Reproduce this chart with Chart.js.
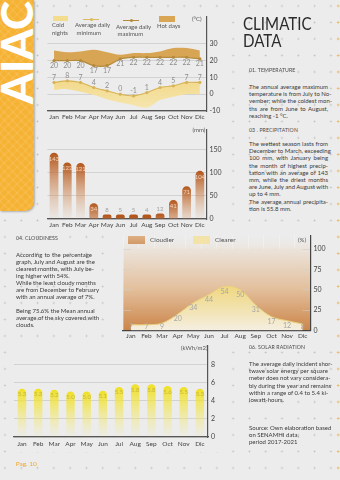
<!DOCTYPE html>
<html>
<head>
<meta charset="utf-8">
<script src="https://cdn.jsdelivr.net/npm/chart.js@4.4.1/dist/chart.umd.min.js"></script>
<style>
html,body{margin:0;padding:0;}
body{width:340px;height:480px;position:relative;overflow:hidden;background-color:#ececec;
  background-image:radial-gradient(circle,#c2c2c2 0 0.7px,transparent 1.2px);
  background-size:16.3px 16.5px;background-position:-3.2px -2.3px;
  font-family:Lato,"Open Sans",sans-serif;color:#3a3a3a;}
.edge{position:absolute;left:334px;top:0;width:6px;height:480px;
  background-image:radial-gradient(circle,#eab060 0 0.8px,transparent 1.3px);
  background-size:16.3px 16.5px;background-position:-4px -2.3px;}
.panel{position:absolute;background:#ececec;}
.brand{position:absolute;left:0;top:0;width:33.5px;height:210.5px;border-bottom-right-radius:9px;
  background-color:#f6b233;
  background-image:repeating-linear-gradient(45deg,rgba(255,255,255,0.07) 0 2px,transparent 2px 6px),
                   repeating-linear-gradient(-45deg,rgba(255,255,255,0.07) 0 2px,transparent 2px 6px);
  box-shadow:1px 1px 2px rgba(0,0,0,0.25);overflow:hidden;}
.brand span{position:absolute;left:-6px;top:104px;transform-origin:left top;transform:rotate(-90deg);
  font-size:44px;line-height:44px;font-weight:900;color:#fff;white-space:nowrap;}
canvas{position:absolute;}
.t{position:absolute;font-size:6px;line-height:7.5px;color:#555;white-space:nowrap;}
.box{position:absolute;}
.h{position:absolute;font-size:5.2px;line-height:6px;letter-spacing:0.1px;color:#4a4a4a;white-space:nowrap;}
.p{position:absolute;font-size:6px;line-height:7.2px;color:#3a3a3a;}
.p div{text-align:justify;text-align-last:justify;white-space:nowrap;height:7.2px;}
.p div.e{text-align-last:left;}
.title{position:absolute;left:243px;top:14.5px;font-size:18px;line-height:17px;color:#2b2b2b;
  transform-origin:left top;transform:scaleX(0.84);white-space:nowrap;}
</style>
</head>
<body>
<div class="edge"></div>

<!-- chart backdrops -->
<div class="panel" style="left:40px;top:8px;width:182px;height:116px"></div>
<div class="panel" style="left:40px;top:124px;width:182px;height:106px"></div>
<div class="panel" style="left:112px;top:231px;width:222px;height:108px"></div>
<div class="panel" style="left:8px;top:340px;width:218px;height:112px"></div>

<div class="brand"><span>AIAC</span></div>

<canvas id="temp" width="182" height="118" style="left:40px;top:8px"></canvas>
<canvas id="rain" width="182" height="110" style="left:40px;top:122px"></canvas>
<canvas id="cloud" width="226" height="114" style="left:112px;top:228px"></canvas>
<canvas id="sun" width="218" height="113" style="left:6px;top:338px"></canvas>

<!-- temperature legend -->
<div class="box" style="left:52.7px;top:16px;width:15.3px;height:5px;background:#f3dc8c"></div>
<div class="t" style="left:52px;top:21.3px">Cold<br>nights</div>
<div class="box" style="left:83px;top:19.3px;width:16px;height:1px;background:#dcb95a"></div>
<div class="box" style="left:89.6px;top:18.2px;width:3.2px;height:3.2px;border-radius:50%;background:#dcb95a"></div>
<div class="t" style="left:75px;top:21.3px">Average daily<br>&nbsp;minimum</div>
<div class="box" style="left:123px;top:19.8px;width:16px;height:1px;background:#b48a3c"></div>
<div class="box" style="left:129.6px;top:18.7px;width:3.2px;height:3.2px;border-radius:50%;background:#b48a3c"></div>
<div class="t" style="left:116px;top:22.8px">Average daily<br>&nbsp;maximum</div>
<div class="box" style="left:159px;top:15.5px;width:16px;height:6px;background:#d9a656"></div>
<div class="t" style="left:157px;top:22.3px">Hot days</div>
<div class="t" style="left:192px;top:15px">(°C)</div>

<div class="t" style="left:192.5px;top:125.5px">(mm)</div>

<!-- cloudiness legend -->
<div class="box" style="left:128px;top:236px;width:17px;height:7.5px;background:linear-gradient(#ddb085,#d29a66)"></div>
<div class="t" style="left:150px;top:235.8px;font-size:6.5px">Cloudier</div>
<div class="box" style="left:193px;top:236px;width:17px;height:7.5px;background:#f3e3a8"></div>
<div class="t" style="left:215px;top:235.8px;font-size:6.5px">Clearer</div>
<div class="t" style="left:298px;top:236.3px">(%)</div>

<div class="t" style="left:181px;top:343.5px">(kWh/m2)</div>
<div class="t" style="left:15.7px;top:459.5px;color:#f0a830;font-size:6.5px">Pag. 10</div>

<!-- right column text -->
<div class="title">CLIMATIC<br>DATA</div>

<div class="h" style="left:249px;top:66.5px">01. TEMPERATURE</div>
<div class="p" style="left:249px;top:83px;width:79px">
  <div>The annual average maximum</div>
  <div>temperature is from July to No-</div>
  <div>vember; while the coldest mon-</div>
  <div>ths are from June to August,</div>
  <div class="e">reaching -1 °C.</div>
</div>

<div class="h" style="left:249px;top:126.5px">03 . PRECIPITATION</div>
<div class="p" style="left:249px;top:140px;width:79px">
  <div>The wettest season lasts from</div>
  <div>December to March, exceeding</div>
  <div>100 mm, with January being</div>
  <div>the month of highest precip-</div>
  <div>tation with an average of 143</div>
  <div>mm, while the driest months</div>
  <div>are June, July and August with</div>
  <div class="e">up to 4 mm.</div>
  <div>The average annual precipita-</div>
  <div class="e">tion is 55.8 mm.</div>
</div>

<div class="h" style="left:16px;top:235px">04. CLOUDINESS</div>
<div class="p" style="left:16px;top:250.5px;width:76px;line-height:7px">
  <div style="height:7px">According to the percentage</div>
  <div style="height:7px">graph, July and August are the</div>
  <div style="height:7px">clearest months, with July be-</div>
  <div class="e" style="height:7px">ing higher with 54%.</div>
  <div style="height:7px">While the least cloudy months</div>
  <div style="height:7px">are from December to February</div>
  <div class="e" style="height:7px">with an annual average of 7%.</div>
  <div class="e" style="height:7px">&nbsp;</div>
  <div style="height:7px">Being 75.6% the Mean annual</div>
  <div style="height:7px">average of the sky covered with</div>
  <div class="e" style="height:7px">clouds.</div>
</div>

<div class="h" style="left:249px;top:344px">06. SOLAR RADIATION</div>
<div class="p" style="left:249px;top:360px;width:79px">
  <div>The average daily incident shor-</div>
  <div>twave solar energy per square</div>
  <div>meter does not vary considera-</div>
  <div>bly during the year and remains</div>
  <div>within a range of 0.4 to 5.4 ki-</div>
  <div class="e">lowatt-hours.</div>
</div>
<div class="p" style="left:249px;top:423.5px;width:79px">
  <div>Source: Own elaboration based</div>
  <div class="e">on SENAMHI data,</div>
  <div class="e">period 2017-2021</div>
</div>

<script>
// ---- data ----
const months = ['Jan','Feb','Mar','Apr','May','Jun','Jul','Aug','Sep','Oct','Nov','Dic'];

// temperature (°C)
const hotDays    = [26, 25, 25.5, 26.5, 25, 23.5, 24.5, 24.5, 25.5, 27.5, 27.5, 26];
const avgMax     = [20, 20, 20, 17, 17, 21, 22, 22, 22, 22, 22, 21];
const avgMin     = [7, 8, 7, 4, 2, 0, -1, 1, 4, 5, 7, 7];
const coldNights = [2.5, 3, 1.5, -0.5, -3, -5, -6.5, -8, -3.5, -1.5, 0, 0];
const tempTicks  = [-10, 0, 10, 20, 30];

// precipitation (mm)
const rainfall  = [143, 122, 121, 34, 8, 5, 5, 4, 12, 41, 71, 104];
const rainTicks = [0, 50, 100, 150];

// cloudiness (%)
const clearSky   = [7, 7, 9, 20, 34, 44, 54, 50, 31, 17, 12, 8];
const cloudySky  = [93, 93, 91, 80, 66, 56, 46, 50, 69, 83, 88, 92];
const cloudTicks = [0, 25, 50, 75, 100];

// solar radiation (kWh/m2)
const solar      = [5.3, 5.3, 5.2, 5.0, 5.0, 5.1, 5.5, 5.8, 5.8, 5.6, 5.5, 5.3];
const solarTicks = [0, 2, 4, 6, 8];

// ---- shared setup ----
const FONT = 'Lato, "Open Sans", sans-serif';
Chart.defaults.font.family = FONT;
Chart.defaults.color = '#444';
Chart.defaults.animation = false;
Chart.defaults.plugins.legend.display = false;
Chart.defaults.plugins.tooltip.enabled = false;

const fixedTicks = list => scale => { scale.ticks = list.map(v => ({ value: v })); };

// value tags drawn next to each mark
const valueTags = {
  id: 'valueTags',
  afterDatasetsDraw(chart) {
    const ctx = chart.ctx;
    chart.data.datasets.forEach((ds, i) => {
      if (!ds.tag) return;
      const meta = chart.getDatasetMeta(i);
      meta.data.forEach((el, j) => {
        const t = ds.tag(ds.data[j], el.x, el.y, chart.chartArea);
        if (!t) return;
        ctx.save();
        ctx.font = t.font;
        ctx.fillStyle = t.color;
        ctx.textAlign = 'center';
        ctx.textBaseline = 'middle';
        ctx.fillText(t.text, el.x, t.y);
        ctx.restore();
      });
    });
  }
};

// vertical gradient spanning the chart area, from [fraction, colour] stops
function areaGradient(chart, stops) {
  const a = chart.chartArea;
  const g = chart.ctx.createLinearGradient(0, a.top, 0, a.bottom);
  stops.forEach(([s, c]) => g.addColorStop(s, c));
  return g;
}
const areaFill = stops => c => c.chart.chartArea ? areaGradient(c.chart, stops) : stops[stops.length - 1][1];

// chart-area shading behind everything
const areaShade = {
  id: 'areaShade',
  beforeDraw(chart, args, opts) {
    if (!opts.stops) return;
    const { ctx, chartArea: a } = chart;
    ctx.save();
    ctx.fillStyle = areaGradient(chart, opts.stops);
    ctx.fillRect(a.left, a.top, a.right - a.left, a.bottom - a.top);
    ctx.restore();
  }
};

function barFade(top, bottom, minSpan) {
  return c => {
    const ch = c.chart;
    if (!ch.chartArea || c.raw == null) return top;
    const ys = ch.scales.y;
    const y0 = ys.getPixelForValue(c.raw);
    const y1 = Math.max(ys.getPixelForValue(0), y0 + minSpan);
    const g = ch.ctx.createLinearGradient(0, y0, 0, y1);
    g.addColorStop(0, top);
    g.addColorStop(1, bottom);
    return g;
  };
}

function axes(o) {
  return {
    x: {
      offset: true,
      grid: o.xGrid || { display: true, drawOnChartArea: false, drawTicks: false },
      border: { display: true, color: o.axisColor || '#555', width: 1.2 },
      ticks: { font: { size: 6.5 }, color: '#444', padding: o.xPad, maxRotation: 0, autoSkip: false },
      afterFit: s => { s.height = o.xH; }
    },
    y: {
      position: 'right',
      min: o.min, max: o.max,
      stacked: !!o.stacked,
      grid: { color: o.gridColor || '#d2d2d2', lineWidth: 1, drawTicks: false },
      border: { display: true, color: o.axisColor || '#555', width: 1.2 },
      ticks: { font: { size: 7 }, color: '#444', padding: 3 },
      afterBuildTicks: fixedTicks(o.ticks),
      afterFit: s => { s.width = o.yW; }
    }
  };
}

// ---- temperature ----
const tagTemp = dy => (v, x, y) => ({ text: String(v), y: y + dy, color: '#8d8d8d', font: '7px ' + FONT });
const coldStops = [[0, '#f1d47c'], [0.55, '#f1d47c'], [1, '#f6e7b2']];

new Chart(document.getElementById('temp'), {
  type: 'line',
  data: {
    labels: months,
    datasets: [
      { label: 'Hot days', data: hotDays, fill: '+1', backgroundColor: '#d8a555', borderWidth: 0, pointRadius: 0, tension: 0.35, order: 5 },
      { label: 'Average daily maximum', data: avgMax, borderColor: '#b48a3c', borderWidth: 1.2, pointRadius: 1.6,
        pointBackgroundColor: '#b48a3c', pointBorderWidth: 0, fill: false, tension: 0.3, order: 0, tag: tagTemp(5) },
      { label: 'Average daily minimum', data: avgMin, borderColor: '#d8b458', borderWidth: 1.2, pointRadius: 1.6,
        pointBackgroundColor: '#d8b458', pointBorderWidth: 0, fill: false, tension: 0.3, order: 1, tag: tagTemp(-5) },
      { label: 'Cold nights', data: coldNights, fill: '-1', backgroundColor: areaFill(coldStops), borderWidth: 0, pointRadius: 0, tension: 0.35, order: 4 }
    ]
  },
  options: {
    responsive: false,
    layout: { padding: { left: 7.4, top: 9, right: 0, bottom: 0 } },
    scales: axes({ min: -10, max: 46, ticks: tempTicks, xH: 15, yW: 15.5, xPad: 2.5 })
  },
  plugins: [valueTags]
});

// ---- precipitation ----
new Chart(document.getElementById('rain'), {
  type: 'bar',
  data: {
    labels: months,
    datasets: [{
      label: 'Precipitation', data: rainfall,
      backgroundColor: barFade('#b3561c', 'rgba(220,160,110,0.05)', 40),
      borderRadius: 6, borderSkipped: 'bottom', minBarLength: 4.5,
      barPercentage: 0.66, categoryPercentage: 1,
      tag: (v, x, y) => v >= 20
        ? { text: String(v), y: y + 6, color: 'rgba(255,232,210,0.8)', font: '6px ' + FONT }
        : { text: String(v), y: y - 4, color: '#a0a0a0', font: '6px ' + FONT }
    }]
  },
  options: {
    responsive: false,
    layout: { padding: { left: 7.4, top: 5, right: 0, bottom: 0 } },
    scales: axes({ min: 0, max: 194, ticks: rainTicks, xH: 13, yW: 15.5, xPad: 2.5 })
  },
  plugins: [valueTags]
});

// ---- cloudiness ----
const cloudStops = [[0, 'rgba(236,236,236,0)'], [0.15, '#ebe3da'], [0.55, '#e3c19f'], [1, '#cc8549']];
const clearStops = [[0, '#efd67a'], [0.5, '#efd67a'], [0.8, '#f2e4b4'], [1, '#f5efe2']];

new Chart(document.getElementById('cloud'), {
  type: 'line',
  data: {
    labels: months,
    datasets: [
      { label: 'Clearer', data: clearSky, fill: 'origin', backgroundColor: areaFill(clearStops), borderColor: '#ead27e',
        borderWidth: 1, pointRadius: 0, tension: 0.35,
        tag: (v, x, y, a) => ({ text: String(v), y: Math.min(y + 5, a.bottom - 4), color: '#a6a6a6', font: '7px ' + FONT }) },
      { label: 'Cloudier', data: cloudySky, fill: '-1', backgroundColor: areaFill(cloudStops), borderWidth: 0, pointRadius: 0, tension: 0.35 }
    ]
  },
  options: {
    responsive: false,
    layout: { padding: { left: 11, top: 7, right: 0, bottom: 0 } },
    plugins: { areaShade: { stops: cloudStops } },
    scales: axes({ min: 0, max: 117, ticks: cloudTicks, xH: 11.5, yW: 27.5, xPad: 1.5, stacked: true,
      axisColor: '#444', gridColor: 'rgba(205,205,205,0.55)',
      xGrid: { display: true, drawOnChartArea: true, drawTicks: false, offset: true, color: 'rgba(255,255,255,0.28)' } })
  },
  plugins: [areaShade, valueTags]
});

// ---- solar radiation ----
new Chart(document.getElementById('sun'), {
  type: 'bar',
  data: {
    labels: months,
    datasets: [{
      label: 'Solar radiation', data: solar,
      backgroundColor: barFade('#f0e024', 'rgba(245,235,120,0.04)', 20),
      borderRadius: 6, borderSkipped: 'bottom',
      barPercentage: 0.52, categoryPercentage: 1,
      tag: (v, x, y) => ({ text: v.toFixed(1), y: y + 5.5, color: '#c2b43c', font: '6px ' + FONT })
    }]
  },
  options: {
    responsive: false,
    layout: { padding: { left: 7.9, top: 4, right: 0, bottom: 0 } },
    scales: axes({ min: 0, max: 10.1, ticks: solarTicks, xH: 14, yW: 16, xPad: 3 })
  },
  plugins: [valueTags]
});
</script>
</body>
</html>
